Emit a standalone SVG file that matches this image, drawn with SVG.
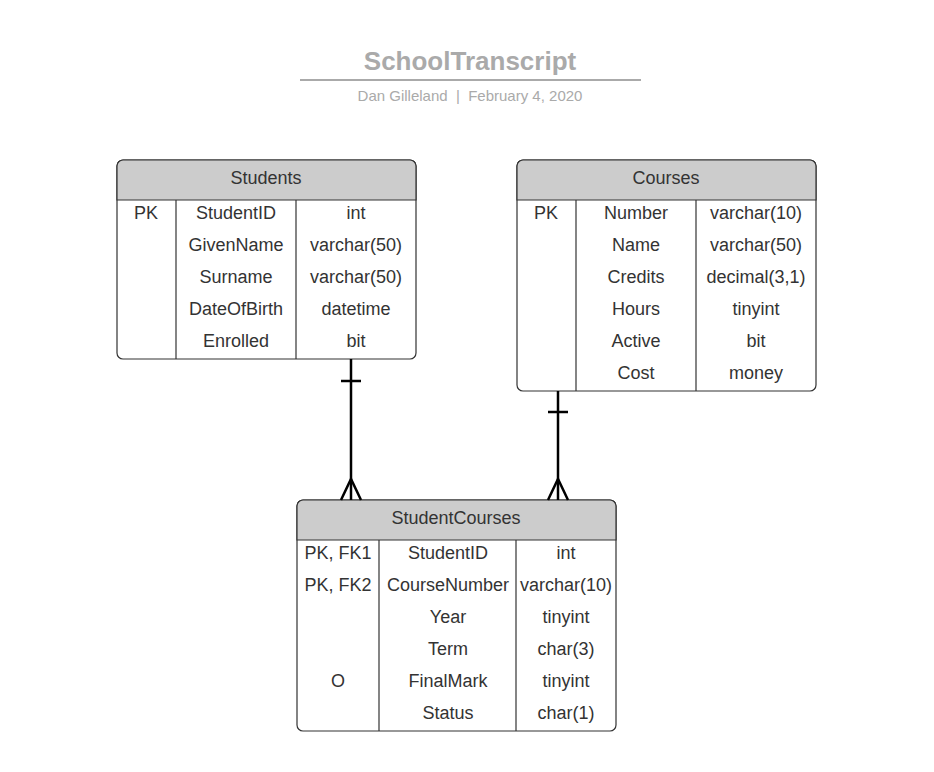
<svg xmlns="http://www.w3.org/2000/svg" width="934" height="772" viewBox="0 0 934 772">
<style>
text{font-family:"Liberation Sans",Arial,sans-serif;fill:#333;font-size:18px;text-anchor:middle;dominant-baseline:central}
.title{font-size:26px;font-weight:bold;fill:#aaa}
.sub{font-size:15px;fill:#aaa}
.box{fill:#fff;stroke:#333;stroke-width:1.2}
.hdr{fill:#ccc;stroke:#333;stroke-width:1.2}
.div{stroke:#333;stroke-width:1.2}
.conn{stroke:#000;stroke-width:2.5;fill:none}
</style>
<rect width="934" height="772" fill="#fff"/>
<g id="title">
<text class="title" x="470" y="61">SchoolTranscript</text>
<line x1="300" y1="80" x2="641" y2="80" stroke="#aaa" stroke-width="2"/>
<text class="sub" x="470" y="95" xml:space="preserve">Dan Gilleland  |  February 4, 2020</text>
</g>
<g id="students">
<rect class="box" x="117" y="160" width="299" height="199" rx="6"/>
<path class="hdr" d="M117,200 V166 A6,6 0 0 1 123,160 H410 A6,6 0 0 1 416,166 V200 Z"/>
<line class="div" x1="176" y1="200" x2="176" y2="359"/>
<line class="div" x1="296" y1="200" x2="296" y2="359"/>
<text x="266" y="178">Students</text>
<text x="146" y="213">PK</text>
<text x="236" y="213">StudentID</text><text x="356" y="213">int</text>
<text x="236" y="245">GivenName</text><text x="356" y="245">varchar(50)</text>
<text x="236" y="277">Surname</text><text x="356" y="277">varchar(50)</text>
<text x="236" y="309">DateOfBirth</text><text x="356" y="309">datetime</text>
<text x="236" y="341">Enrolled</text><text x="356" y="341">bit</text>
</g>
<g id="courses">
<rect class="box" x="517" y="160" width="299" height="231" rx="6"/>
<path class="hdr" d="M517,200 V166 A6,6 0 0 1 523,160 H810 A6,6 0 0 1 816,166 V200 Z"/>
<line class="div" x1="576" y1="200" x2="576" y2="391"/>
<line class="div" x1="696" y1="200" x2="696" y2="391"/>
<text x="666" y="178">Courses</text>
<text x="546" y="213">PK</text>
<text x="636" y="213">Number</text><text x="756" y="213">varchar(10)</text>
<text x="636" y="245">Name</text><text x="756" y="245">varchar(50)</text>
<text x="636" y="277">Credits</text><text x="756" y="277">decimal(3,1)</text>
<text x="636" y="309">Hours</text><text x="756" y="309">tinyint</text>
<text x="636" y="341">Active</text><text x="756" y="341">bit</text>
<text x="636" y="373">Cost</text><text x="756" y="373">money</text>
</g>
<g id="studentcourses">
<rect class="box" x="297" y="500" width="319" height="231" rx="6"/>
<path class="hdr" d="M297,540 V506 A6,6 0 0 1 303,500 H610 A6,6 0 0 1 616,506 V540 Z"/>
<line class="div" x1="379" y1="540" x2="379" y2="731"/>
<line class="div" x1="516" y1="540" x2="516" y2="731"/>
<text x="456" y="518">StudentCourses</text>
<text x="338" y="553">PK, FK1</text><text x="448" y="553">StudentID</text><text x="566" y="553">int</text>
<text x="338" y="585">PK, FK2</text><text x="448" y="585">CourseNumber</text><text x="566" y="585">varchar(10)</text>
<text x="448" y="617">Year</text><text x="566" y="617">tinyint</text>
<text x="448" y="649">Term</text><text x="566" y="649">char(3)</text>
<text x="338" y="681">O</text><text x="448" y="681">FinalMark</text><text x="566" y="681">tinyint</text>
<text x="448" y="713">Status</text><text x="566" y="713">char(1)</text>
</g>
<g id="connectors">
<line class="conn" x1="351" y1="359" x2="351" y2="500"/>
<line class="conn" x1="341" y1="381" x2="361" y2="381"/>
<path class="conn" d="M341,500 L351,479 L361,500"/>
<line class="conn" x1="558" y1="391" x2="558" y2="500"/>
<line class="conn" x1="548" y1="412" x2="568" y2="412"/>
<path class="conn" d="M548,500 L558,479 L568,500"/>
</g>
</svg>
